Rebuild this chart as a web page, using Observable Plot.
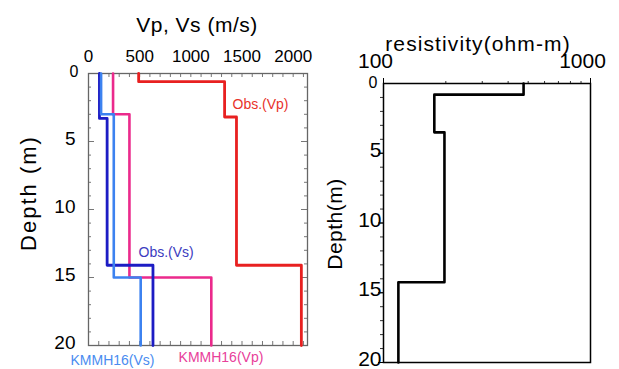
<!DOCTYPE html>
<html><head><meta charset="utf-8">
<script src="https://cdn.jsdelivr.net/npm/d3@7"></script>
<script src="https://cdn.jsdelivr.net/npm/@observablehq/plot@0.6"></script>
<style>
body{margin:0;background:#fff;}
#wrap{position:relative;width:619px;height:369px;overflow:hidden;font-family:"Liberation Sans",Arial,sans-serif;color:#000;}
#wrap svg{position:absolute;top:0;overflow:visible;background:transparent;}
.lbl{position:absolute;white-space:nowrap;line-height:1;}
</style></head><body><div id="wrap"></div><script>
// ---- data ----
const velocityTickLabels = [0, 500, 1000, 1500, 2000];
const depthTickLabels = [5, 10, 15, 20];
const resistivityTickLabels = [100, 1000];

const obsVpDepths = [0, 0.6, 3.2, 14.1, 20];
const obsVpValues = [490, 1330, 1446, 2080];

const obsVsDepths = [0, 3.3, 14.1, 20];
const obsVsValues = [107, 182, 630];

const kmmVsDepths = [0, 3, 15, 20];
const kmmVsValues = [123, 247, 510];

const kmmVpDepths = [0, 3, 15, 20];
const kmmVpValues = [240, 400, 1200];

const resDepths = [0, 0.8, 3.5, 14.25, 20];
const resValues = [475, 176, 197, 118];

// ---- helpers ----
function profile(depths, values) {
  const pts = [];
  values.forEach((v, i) => { pts.push({v, d: depths[i]}); pts.push({v, d: depths[i + 1]}); });
  return pts;
}
const wrap = document.getElementById("wrap");
function addLabel(text, x, y, size, opts = {}) {
  const el = document.createElement("div");
  el.className = "lbl";
  el.textContent = text;
  el.style.left = x + "px";
  el.style.top = y + "px";
  el.style.fontSize = size + "px";
  el.style.letterSpacing = (opts.ls || 0) + "px";
  el.style.transform = "translate(-50%,-50%)" + (opts.rotate ? " rotate(-90deg)" : "");
  wrap.appendChild(el);
}

// ---- left panel ----
const LH = 369, LW = 330;
const lTop = 73, lBottom = 24, lLeft = 88, lRight = 23;
const lFrameH = LH - lTop - lBottom, lFrameW = LW - lLeft - lRight;
const minorV = d3.range(100, 2101, 100);
const minorD = d3.range(1, 20, 1);
const majorD = [5, 10, 15];

const left = Plot.plot({
  width: LW, height: LH,
  marginLeft: lLeft, marginRight: lRight, marginTop: lTop, marginBottom: lBottom,
  style: {fontFamily: "Liberation Sans, Arial, sans-serif", overflow: "visible"},
  x: {domain: [0, 2140], axis: null},
  y: {domain: [0, 20], reverse: true, axis: null},
  marks: [
    // inward ticks
    Plot.tickX(minorV, {x: d => d, stroke: "#777", insetBottom: lFrameH - 4}),
    Plot.tickX(minorV, {x: d => d, stroke: "#777", insetTop: lFrameH - 4}),
    Plot.tickY(minorD, {y: d => d, stroke: "#777", insetRight: lFrameW - 3}),
    Plot.tickY(majorD, {y: d => d, stroke: "#777", insetRight: lFrameW - 6}),
    Plot.tickY(minorD, {y: d => d, stroke: "#777", insetLeft: lFrameW - 3}),
    Plot.tickY(majorD, {y: d => d, stroke: "#777", insetLeft: lFrameW - 6}),
    Plot.frame({stroke: "#666", strokeWidth: 1.3}),
    // tick labels
    Plot.text(velocityTickLabels, {x: d => d, text: d => String(d), frameAnchor: "top", lineAnchor: "middle", dy: -17, fontSize: 17}),
    Plot.text(depthTickLabels, {y: d => d, text: d => String(d), frameAnchor: "left", textAnchor: "end", lineAnchor: "middle", dx: -13, dy: -3, fontSize: 19}),
    Plot.text([0], {y: d => d, text: d => String(d), frameAnchor: "left", textAnchor: "end", lineAnchor: "middle", dx: -10, dy: -2, fontSize: 16}),
    // profiles
    Plot.line(profile(kmmVpDepths, kmmVpValues), {x: "v", y: "d", stroke: "#eb2a8c", strokeWidth: 2.6}),
    Plot.line(profile(obsVsDepths, obsVsValues), {x: "v", y: "d", stroke: "#1c1cc4", strokeWidth: 2.8}),
    Plot.line(profile(kmmVsDepths, kmmVsValues), {x: "v", y: "d", stroke: "#3c82f0", strokeWidth: 2.6}),
    Plot.line(profile(obsVpDepths, obsVpValues), {x: "v", y: "d", stroke: "#e82020", strokeWidth: 2.8}),
    // line labels
    Plot.text(["Obs.(Vp)"], {x: 1407, y: 2.28, text: d => d, textAnchor: "start", fill: "#e8322a", fontSize: 14}),
    Plot.text(["Obs.(Vs)"], {x: 489, y: 13.16, text: d => d, textAnchor: "start", fill: "#3c3cc0", fontSize: 14}),
    Plot.text(["KMMH16(Vs)"], {x: -176, y: 21.1, text: d => d, textAnchor: "start", fill: "#4a8cf0", fontSize: 14}),
    Plot.text(["KMMH16(Vp)"], {x: 880, y: 20.9, text: d => d, textAnchor: "start", fill: "#e8409a", fontSize: 14})
  ]
});
left.style.left = "0px";
wrap.appendChild(left);

// ---- right panel ----
const RW = 289, RH = 369;
const rTop = 83, rBottom = 7, rLeft = 53, rRight = 29;
const minorR = d3.range(200, 901, 100);
const right = Plot.plot({
  width: RW, height: RH,
  marginLeft: rLeft, marginRight: rRight, marginTop: rTop, marginBottom: rBottom,
  style: {fontFamily: "Liberation Sans, Arial, sans-serif", overflow: "visible"},
  x: {type: "log", domain: [100, 1000], axis: null},
  y: {domain: [0, 20], reverse: true, axis: null},
  marks: [
    Plot.axisX(minorR, {anchor: "top", tickSize: 3, tickFormat: () => "", label: null, stroke: "#333"}),
    Plot.axisX(resistivityTickLabels, {anchor: "top", tickSize: 6, tickFormat: () => "", label: null, stroke: "#000"}),
    Plot.axisY(minorD, {anchor: "left", tickSize: 3, tickFormat: () => "", label: null, stroke: "#333"}),
    Plot.axisY([5, 10, 15, 20], {anchor: "left", tickSize: 5, tickFormat: () => "", label: null, stroke: "#000"}),
    Plot.frame({stroke: "#000", strokeWidth: 1.5}),
    Plot.text(resistivityTickLabels, {x: d => d, text: d => String(d), frameAnchor: "top", lineAnchor: "middle", dy: -22, dx: -8, fontSize: 21}),
    Plot.text(depthTickLabels, {y: d => d, text: d => String(d), frameAnchor: "left", textAnchor: "end", lineAnchor: "middle", dx: -2, dy: -3, fontSize: 21}),
    Plot.text([0], {y: d => d, text: d => String(d), frameAnchor: "left", textAnchor: "end", lineAnchor: "middle", dx: -6, dy: -1, fontSize: 16}),
    Plot.line(profile(resDepths, resValues), {x: "v", y: "d", stroke: "#000", strokeWidth: 2.6})
  ]
});
right.style.left = "330px";
wrap.appendChild(right);

// ---- titles ----
addLabel("Vp, Vs (m/s)", 197, 24, 21, {ls: 0.5});
addLabel("Depth (m)", 29, 193, 22, {rotate: true, ls: 2});
addLabel("resistivity(ohm-m)", 478, 43, 21, {ls: 1.1});
addLabel("Depth(m)", 334, 224, 21, {rotate: true, ls: 0.5});
</script></body></html>
